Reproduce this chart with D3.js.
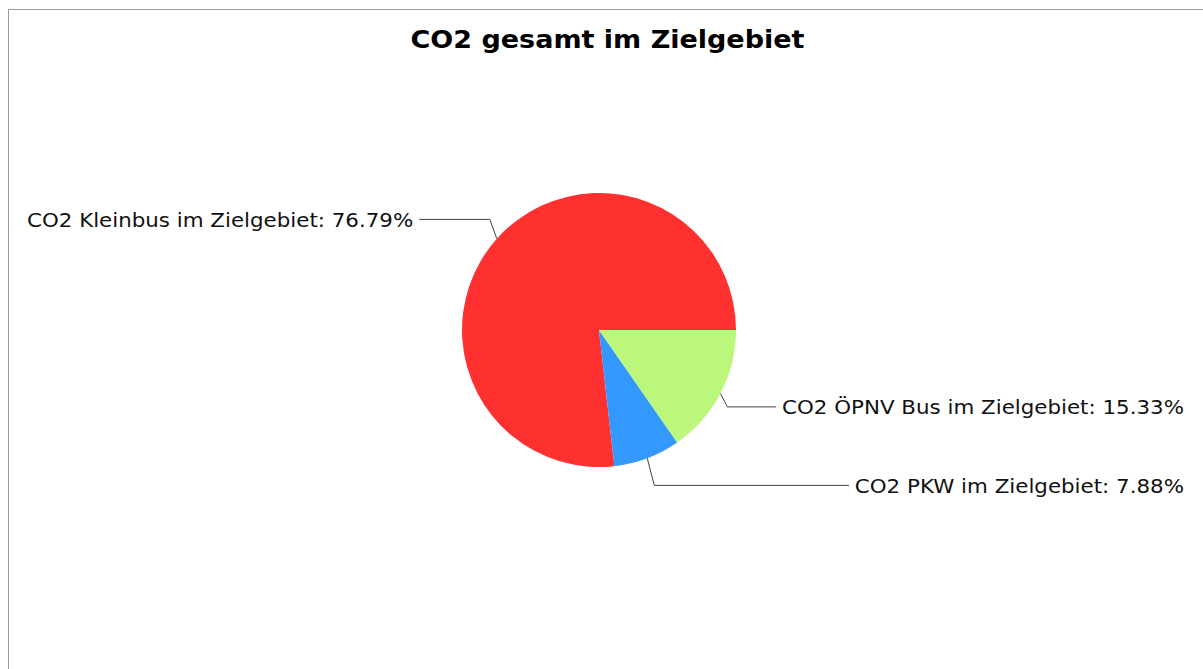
<!DOCTYPE html>
<html>
<head>
<meta charset="utf-8">
<script src="https://cdn.jsdelivr.net/npm/d3@7.9.0/dist/d3.min.js"></script>
<style>
  body { margin: 0; background: #fff; }
  svg { display: block; font-family: 'DejaVu Sans', sans-serif; }
</style>
</head>
<body>
<div id="chart"></div>
<script>
const title = 'CO2 gesamt im Zielgebiet';
const categories = ['CO2 Kleinbus im Zielgebiet', 'CO2 PKW im Zielgebiet', 'CO2 ÖPNV Bus im Zielgebiet'];
const shares = [76.79, 7.88, 15.33];
const colors = ['#ff3030', '#3399ff', '#bbf77a'];

const width = 1203;
const height = 669;
const cx = 599, cy = 330, radius = 137;
const labelRadius = 166;
const stretch = 1.125; // text in the reference is a little wider than plain DejaVu

const svg = d3.select('#chart')
    .append('svg')
    .attr('width', width)
    .attr('height', height);

// frame (top and left edges visible)
svg.append('line').attr('x1', 8.5).attr('x2', width).attr('y1', 9.5).attr('y2', 9.5)
    .attr('stroke', '#999');
svg.append('line').attr('x1', 8.5).attr('x2', 8.5).attr('y1', 9.5).attr('y2', height)
    .attr('stroke', '#999');

const titleText = svg.append('text')
    .attr('x', 607.5)
    .attr('y', 48)
    .attr('text-anchor', 'middle')
    .attr('font-size', 24)
    .attr('font-weight', 'bold')
    .text(title);
titleText.attr('textLength', titleText.node().getComputedTextLength() * stretch)
    .attr('lengthAdjust', 'spacingAndGlyphs');

const data = categories.map((c, i) => ({ name: c, value: shares[i], color: colors[i] }));

// start at 3 o'clock, go counterclockwise
const pie = d3.pie()
    .sort(null)
    .value(d => d.value)
    .startAngle(Math.PI / 2)
    .endAngle(Math.PI / 2 - 2 * Math.PI);

const arc = d3.arc().innerRadius(0).outerRadius(radius);
const arcs = pie(data);

const g = svg.append('g').attr('transform', `translate(${cx},${cy})`);
g.selectAll('path')
    .data(arcs)
    .join('path')
    .attr('d', arc)
    .attr('fill', d => d.data.color);

const fmt = d3.format('.2f');
const labels = svg.append('g').attr('font-size', 19).attr('fill', '#111');

arcs.forEach(a => {
    const mid = (a.startAngle + a.endAngle) / 2;
    const px = cx + Math.sin(mid) * radius;
    const py = cy - Math.cos(mid) * radius;
    const right = Math.sin(mid) > 0;
    const ly = cy - Math.cos(mid) * labelRadius;
    const ex = px + (right ? 7 : -7);

    const t = labels.append('text')
        .attr('y', ly + 7.5)
        .text(`${a.data.name}: ${fmt(a.data.value)}%`);
    const w = t.node().getComputedTextLength() * stretch;
    t.attr('textLength', w).attr('lengthAdjust', 'spacingAndGlyphs');
    let tx0;
    if (right) {
        t.attr('x', 1184 - w);
        tx0 = 1184 - w - 6;
    } else {
        t.attr('x', 27);
        tx0 = 27 + w + 6;
    }
    svg.append('polyline')
        .attr('points', `${px},${py} ${ex},${ly} ${tx0},${ly}`)
        .attr('fill', 'none')
        .attr('stroke', '#444')
        .attr('stroke-width', 1);
});
</script>
</body>
</html>
